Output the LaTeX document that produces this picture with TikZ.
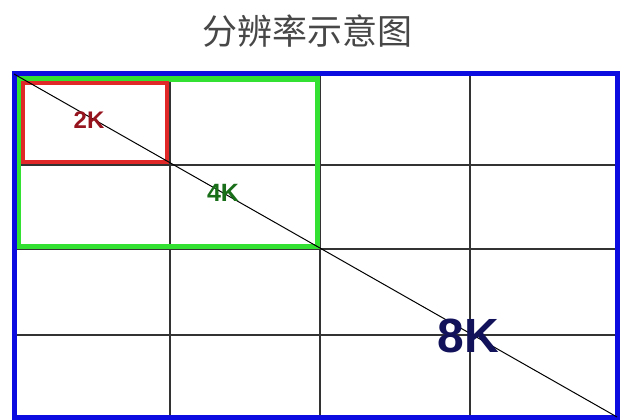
\documentclass[tikz,border=0pt]{standalone}
\usepackage{fontspec}
\setmainfont{Liberation Sans}
\newfontfamily\cjk{Noto Sans CJK SC}
\usepackage[dvipsnames]{xcolor}
\usepackage{tikz}
\usetikzlibrary{positioning}
\definecolor{frameblue}{RGB}{12,12,225}
\definecolor{boxred}{RGB}{225,40,40}
\definecolor{boxgreen}{RGB}{50,225,50}
\definecolor{txtred}{RGB}{150,20,30}
\definecolor{txtgreen}{RGB}{25,110,25}
\definecolor{txtnavy}{RGB}{18,18,90}
\tikzset{gridline/.style={draw=black!80,line width=1.1pt},
         label2k/.style={font=\fontsize{24}{24}\selectfont\bfseries,text=txtred,inner sep=0pt},
         label4k/.style={font=\fontsize{25}{25}\selectfont\bfseries,text=txtgreen,inner sep=0pt},
         label8k/.style={font=\fontsize{48}{48}\selectfont\bfseries,text=txtnavy,inner sep=0pt},
         title/.style={font=\fontsize{35}{35}\selectfont\cjk,text=black!72,inner sep=0pt}}

\begin{document}
\begin{tikzpicture}[x=1pt,y=-1pt]
  \useasboundingbox (0,0) rectangle (629,420);
  % title
  \node[title] (title) at (307,31) {分辨率示意图};
  % corners
  \coordinate (topleft) at (14,74);
  \coordinate (bottomright) at (617,417);
  % grid
  \draw[gridline] (170,74) -- (170,417);
  \draw[gridline] (320,74) -- (320,417);
  \draw[gridline] (470,74) -- (470,417);
  \draw[gridline] (14,165) -- (617,165);
  \draw[gridline] (14,249) -- (617,249);
  \draw[gridline] (14,335) -- (617,335);
  % boxes
  \draw[boxgreen,line width=5pt] (18,79) rectangle (317,246);
  \draw[boxred,line width=4pt] (23,83) rectangle (167,162);
  \draw[frameblue,line width=5pt] (topleft) rectangle (bottomright);
  \draw[black,line width=1pt] (topleft) -- (bottomright);
  % labels
  \node[label2k] (twok) at (89,120) {2K};
  \node[label4k] (fourk) at (223,193) {4K};
  \node[label8k] (eightk) at (468,336) {8K};
\end{tikzpicture}
\end{document}
